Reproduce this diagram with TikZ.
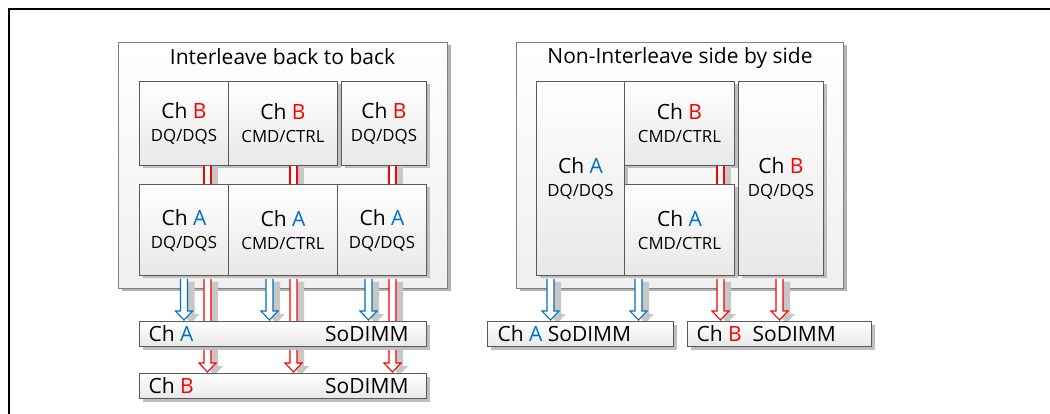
\documentclass[tikz,border=0pt]{standalone}
\usepackage{fontspec}
\setmainfont{Open Sans}
\usetikzlibrary{shadows,calc}
\definecolor{chA}{RGB}{0,112,192}
\definecolor{chB}{RGB}{255,0,0}
\newcommand\BigT{\fontsize{21}{23}\selectfont}
\newcommand\SmT{\fontsize{16.8}{23}\selectfont}
% hollow arrow outline: #1 style, #2 from node, #3 x offset, #4 to node, #5 dx, #6 dy
\newcommand\ArrPath[6]{%
  \path[#1] let \p1=([xshift=#3pt]#2.south), \p2=(#4.north) in
    (\x1-3.5pt#5,\y1-3pt#6) -- (\x1-3.5pt#5,\y2+10pt#6) -- (\x1-8.5pt#5,\y2+10pt#6) --
    (\x1#5,\y2+1pt#6) -- (\x1+8.5pt#5,\y2+10pt#6) -- (\x1+3.5pt#5,\y2+10pt#6) --
    (\x1+3.5pt#5,\y1-3pt#6);}
\newcommand\HArrow[4]{%
  \ArrPath{fill=black!22}{#2}{#3}{#4}{+7pt}{-3pt}%
  \ArrPath{draw=#1,fill=white,line width=1.1pt,line join=miter}{#2}{#3}{#4}{+0pt}{+0pt}}
\newcommand\Shaft[4]{%
  \path[fill=black!22] let \p1=([xshift=#3pt]#2.south), \p2=(#4.north) in
    (\x1+3.5pt,\y1) rectangle (\x1+10.5pt,\y2);
  \path[fill=white] let \p1=([xshift=#3pt]#2.south), \p2=(#4.north) in
    (\x1-3.5pt,\y1) rectangle (\x1+3.5pt,\y2);
  \path[draw=#1,line width=1.1pt] let \p1=([xshift=#3pt]#2.south), \p2=(#4.north) in
    (\x1-3.5pt,\y1) -- (\x1-3.5pt,\y2) (\x1+3.5pt,\y1) -- (\x1+3.5pt,\y2);}
\tikzset{
  panel/.style={draw=black!50, line width=1pt, top color=white, bottom color=black!6,
    drop shadow={shadow xshift=3pt,shadow yshift=-3pt,fill=black!30,opacity=1},
    anchor=north west, inner sep=0pt},
  cell/.style={draw=black!65, line width=1pt, top color=white, bottom color=black!9,
    drop shadow={shadow xshift=3pt,shadow yshift=-3pt,fill=black!25,opacity=1},
    anchor=north west, inner sep=0pt, align=center, font=\BigT},
  bar/.style={cell, minimum height=25pt, align=left},
  title/.style={font=\BigT, inner sep=0pt},
}
\begin{document}
\begin{tikzpicture}[x=1pt,y=-1pt]
\useasboundingbox (0,0) rectangle (1050,414);
\draw[line width=2pt] (9,414) -- (9,9) -- (1050,9);
% ---------- left panel ----------
\node[panel, minimum width=329pt, minimum height=246pt] (outL) at (118,42) {};
\node[title] (tL) at (282.5,57) {Interleave back to back};
\node[cell, minimum width=89pt, minimum height=84pt] (bB1) at (139,81)
  {Ch \textcolor{chB}{B}\\{\SmT DQ/DQS}};
\node[cell, minimum width=109pt, minimum height=84pt] (bB2) at (228,81)
  {Ch \textcolor{chB}{B}\\{\SmT CMD/CTRL}};
\node[cell, minimum width=85pt, minimum height=84pt] (bB3) at (341,81)
  {Ch \textcolor{chB}{B}\\{\SmT DQ/DQS}};
\node[cell, minimum width=89pt, minimum height=91pt] (aA1) at (139,184)
  {Ch \textcolor{chA}{A}\\{\SmT DQ/DQS}};
\node[cell, minimum width=109pt, minimum height=91pt] (aA2) at (228,184)
  {Ch \textcolor{chA}{A}\\{\SmT CMD/CTRL}};
\node[cell, minimum width=89pt, minimum height=91pt] (aA3) at (337,184)
  {Ch \textcolor{chA}{A}\\{\SmT DQ/DQS}};
\Shaft{chB}{bB1}{23.5}{aA1}
\Shaft{chB}{bB2}{10.5}{aA2}
\Shaft{chB}{bB3}{8.5}{aA3}
% ---------- right panel ----------
\node[panel, minimum width=327pt, minimum height=246pt] (outR) at (516,42) {};
\node[title] (tR) at (680,58) {Non-Interleave side by side};
\node[cell, minimum width=88pt, minimum height=194pt] (rA) at (536,81)
  {Ch \textcolor{chA}{A}\\{\SmT DQ/DQS}};
\node[cell, minimum width=110pt, minimum height=84pt] (rBc) at (624,81)
  {Ch \textcolor{chB}{B}\\{\SmT CMD/CTRL}};
\node[cell, minimum width=110pt, minimum height=91pt] (rAc) at (624,184)
  {Ch \textcolor{chA}{A}\\{\SmT CMD/CTRL}};
\node[cell, minimum width=85pt, minimum height=194pt] (rB) at (738,81)
  {Ch \textcolor{chB}{B}\\{\SmT DQ/DQS}};
\Shaft{chB}{rBc}{41}{rAc}
% ---------- SoDIMM bars: positions ----------
\path (139,321) coordinate (soApos) (139,373) coordinate (soBpos)
      (487,321) coordinate (soRApos) (687,321) coordinate (soRBpos);
\path (soApos) node[anchor=north west, minimum width=287pt, minimum height=25pt, inner sep=0pt] (soAg) {}
      (soBpos) node[anchor=north west, minimum width=287pt, minimum height=25pt, inner sep=0pt] (soBg) {}
      (soRApos) node[anchor=north west, minimum width=186pt, minimum height=25pt, inner sep=0pt] (soRAg) {}
      (soRBpos) node[anchor=north west, minimum width=184pt, minimum height=25pt, inner sep=0pt] (soRBg) {};
% ---------- arrows ----------
\HArrow{chA}{aA1}{0}{soAg}
\HArrow{chA}{aA2}{-13.5}{soAg}
\HArrow{chA}{aA3}{-13.5}{soAg}
\HArrow{chB}{aA1}{23.5}{soBg}
\HArrow{chB}{aA2}{10.5}{soBg}
\HArrow{chB}{aA3}{10.5}{soBg}
\HArrow{chA}{rA}{-30}{soRAg}
\HArrow{chA}{rAc}{-41}{soRAg}
\HArrow{chB}{rAc}{41}{soRBg}
\HArrow{chB}{rB}{-1.5}{soRBg}
% ---------- bars ----------
\node[bar, minimum width=287pt] (soA) at (soApos)
  {\makebox[287pt][l]{\hspace{9pt}Ch \textcolor{chA}{A}\hfill SoDIMM\hspace{18pt}}};
\node[bar, minimum width=287pt] (soB) at (soBpos)
  {\makebox[287pt][l]{\hspace{9pt}Ch \textcolor{chB}{B}\hfill SoDIMM\hspace{18pt}}};
\node[bar, minimum width=186pt] (soRA) at (soRApos)
  {\makebox[186pt][l]{\hspace{10pt}Ch \textcolor{chA}{A} SoDIMM}};
\node[bar, minimum width=184pt] (soRB) at (soRBpos)
  {\makebox[184pt][l]{\hspace{9pt}Ch \textcolor{chB}{B}\ \ SoDIMM}};
\end{tikzpicture}
\end{document}
